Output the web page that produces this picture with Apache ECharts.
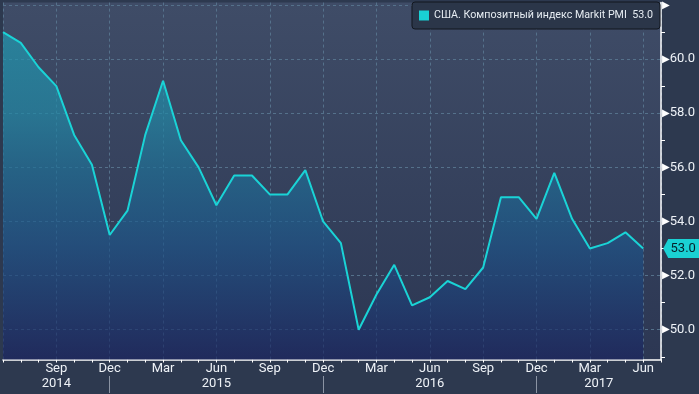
<!DOCTYPE html>
<html><head><meta charset="utf-8">
<script src="https://cdn.jsdelivr.net/npm/echarts@6/dist/echarts.min.js"></script>
<style>html,body{margin:0;padding:0;background:#2d394f}#c{width:699px;height:394px}</style>
</head><body><div id="c"></div>
<script>
const seriesName = 'США. Композитный индекс Markit PMI';
const monthLabels = ['Jun','Jul','Aug','Sep','Oct','Nov','Dec',
  'Jan','Feb','Mar','Apr','May','Jun','Jul','Aug','Sep','Oct','Nov','Dec',
  'Jan','Feb','Mar','Apr','May','Jun','Jul','Aug','Sep','Oct','Nov','Dec',
  'Jan','Feb','Mar','Apr','May','Jun'];
const pmiValues = [61.0,60.6,59.7,59.0,57.2,56.1,53.5,
  54.4,57.2,59.2,57.0,56.0,54.6,55.7,55.7,55.0,55.0,55.9,54.0,
  53.2,50.0,51.3,52.4,50.9,51.2,51.8,51.5,52.3,54.9,54.9,54.1,
  55.8,54.1,53.0,53.2,53.6,53.0];
const yMajorTicks = [50,52,54,56,58,60,62];
const yMinorTicks = [49,51,53,55,57,59,61];
const yearPositions = [3,12,24,33.5];
const yearLabels = ['2014','2015','2016','2017'];
const yearBoundaries = [6,18,30];
const lastIndex = pmiValues.length - 1;
const lastValue = pmiValues[lastIndex];

const font = 'Roboto';
const gridColor = '#55718b';
const chart = echarts.init(document.getElementById('c'), null, {renderer:'canvas'});
const option = {
  backgroundColor: '#2d394f',
  animation: false,
  grid: {left:1, right:38, top:0, bottom:34.5, show:true, borderWidth:0,
    backgroundColor:{type:'linear',x:0,y:0,x2:0,y2:1,colorStops:[{offset:0,color:'#3f4c67'},{offset:1,color:'#2c3753'}]}},
  legend: {right:39, top:2, padding:[8,7,8,7], backgroundColor:'#2b3649', borderColor:'#12171f', borderWidth:1, borderRadius:3,
    icon:'rect', itemWidth:10, itemHeight:10,
    textStyle:{color:'#e6ecf2', fontFamily:font, fontSize:10.7},
    formatter: n => n + '  ' + lastValue.toFixed(1),
    data:[{name:seriesName, icon:'rect', itemStyle:{color:'#19d0d4'}}]},
  xAxis: [
    {type:'value', min:0, max:37, interval:3, position:'bottom',
      axisLine:{show:true, onZero:false, lineStyle:{color:'#ffffff', width:1.5}},
      axisTick:{show:true, length:3, lineStyle:{color:'#ffffff'}},
      minorTick:{show:true, splitNumber:3, length:3, lineStyle:{color:'#ffffff'}},
      splitLine:{show:true, lineStyle:{color:gridColor, type:[3,3], width:1}},
      axisLabel:{margin:3, color:'#eef2f7', fontFamily:font, fontSize:13,
        formatter: v => (v > 0 && v % 3 === 0 && monthLabels[v]) ? monthLabels[v] : ''}},
    {type:'value', min:0, max:37, position:'bottom', offset:16.5,
      axisLine:{show:false, onZero:false},
      axisTick:{show:true, customValues:yearBoundaries, length:17, lineStyle:{color:'#8a93a3'}},
      splitLine:{show:false},
      axisLabel:{customValues:yearPositions, margin:1, color:'#eef2f7', fontFamily:font, fontSize:13,
        formatter: v => yearLabels[yearPositions.indexOf(v)] || ''}}
  ],
  yAxis: [
    {type:'value', position:'right', min:48.9, max:62.09,
      axisLine:{show:true, onZero:false, lineStyle:{color:'#ffffff', width:1.5}},
      axisTick:{show:false, customValues:yMajorTicks},
      splitLine:{show:true, lineStyle:{color:gridColor, type:[3,3], width:1}},
      axisLabel:{customValues:yMajorTicks, margin:1,
        formatter: v => v >= 62 ? '{t|▶}' : '{t|▶}{v|' + v.toFixed(1) + '}',
        rich:{t:{fontFamily:'DejaVu Sans', fontSize:10, color:'#ffffff'},
              v:{fontFamily:font, fontSize:13, color:'#eef2f7'}}}},
    {type:'value', position:'right', min:48.9, max:62.09,
      axisLine:{show:false, onZero:false},
      axisTick:{show:true, customValues:yMinorTicks, length:4, lineStyle:{color:'#ffffff'}},
      axisLabel:{show:false}, splitLine:{show:false}}
  ],
  series: [{
    type:'line', name:seriesName, xAxisIndex:0, yAxisIndex:0,
    data: pmiValues.map((v,i) => [i,v]),
    symbol:'none',
    lineStyle:{color:'#1ad3d6', width:2},
    itemStyle:{color:'#19d0d4'},
    areaStyle:{origin:'start', color:{type:'linear',x:0,y:0,x2:0,y2:1,colorStops:[
      {offset:0,color:'#2199b1'},{offset:0.25,color:'#2289a6'},{offset:0.43,color:'#1f6e95'},
      {offset:0.65,color:'#1e5488'},{offset:0.87,color:'#1d376f'},{offset:1,color:'#1b2560'}]}},
    markPoint:{
      symbol:'path://M0,9.5L5,0L36,0L36,19L5,19Z', symbolSize:[36,19], symbolOffset:[38,0],
      itemStyle:{color:'#1ad1d3'},
      label:{show:true, position:'inside', offset:[2,0], color:'#06202a', fontFamily:font, fontSize:13,
        formatter: () => lastValue.toFixed(1)},
      data:[{coord:[lastIndex, lastValue], value:lastValue}]
    }
  }]
};
chart.setOption(option);
</script></body></html>
